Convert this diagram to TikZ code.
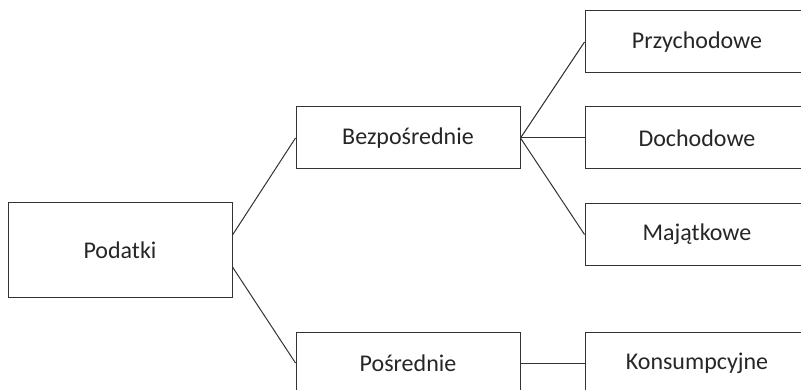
\documentclass[tikz,border=0pt]{standalone}
\usepackage{fontspec}
\setmainfont{Carlito}
\tikzset{box/.style={draw=black!80,line width=1pt,text=black!85,minimum width=224pt,minimum height=62pt,font=\fontsize{24}{28}\selectfont}}
\begin{document}
\begin{tikzpicture}[x=1pt,y=-1pt,line width=1pt]
\clip(0,0)rectangle(801,390);
\node[box,minimum height=95pt](podatki) at (120,250.5){Podatki};
\node[box](bezp) at (408,138){Bezpośrednie};
\node[box](posr) at (408,363){Pośrednie};
\node[box](przych) at (697,42){Przychodowe};
\node[box](doch) at (697,138){Dochodowe};
\node[box](maj) at (697,234.5){Majątkowe};
\node[box](kons) at (697,363){Konsumpcyjne};
\draw[black!80]([yshift=15.5pt]podatki.east)--(bezp.west);
\draw[black!80]([yshift=-16.5pt]podatki.east)--(posr.west);
\draw[black!80](bezp.east)--(przych.west);
\draw[black!80](bezp.east)--(doch.west);
\draw[black!80](bezp.east)--(maj.west);
\draw[black!80](posr.east)--(kons.west);
\end{tikzpicture}
\end{document}
